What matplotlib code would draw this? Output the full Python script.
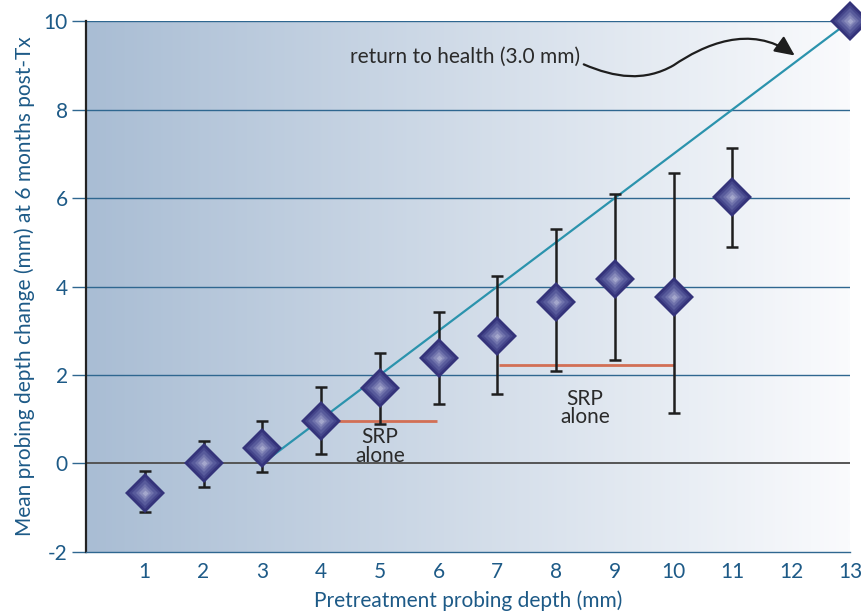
import numpy as np
import matplotlib
matplotlib.use('Agg')
import matplotlib.pyplot as plt
from matplotlib.path import Path
from matplotlib.patches import FancyArrowPatch

plt.rcParams['font.family'] = ['Lato', 'DejaVu Sans']

# data
depth = [1, 2, 3, 4, 5, 6, 7, 8, 9, 10, 11, 13]
mean_change = [-0.66, 0.0, 0.36, 0.97, 1.70, 2.38, 2.89, 3.65, 4.16, 3.77, 6.02, 10.0]
upper = [-0.18, 0.51, 0.95, 1.72, 2.50, 3.42, 4.24, 5.29, 6.10, 6.56, 7.13, 10.0]
lower = [-1.10, -0.53, -0.20, 0.21, 0.89, 1.34, 1.56, 2.08, 2.35, 1.15, 4.90, 10.0]

health_x = [3, 13]
health_y = [0, 10]

srp1_x = [4.18, 5.98]
srp1_y = [0.96, 0.96]
srp2_x = [7.03, 10.0]
srp2_y = [2.23, 2.23]

xticks = [1, 2, 3, 4, 5, 6, 7, 8, 9, 10, 11, 12, 13]
yticks = [-2, 0, 2, 4, 6, 8, 10]
ytick_labels = ['-2', '0', '2', '4', '6', '8', '10']

blue_txt = '#1d5a87'
grid_c = '#2f6790'

fig = plt.figure(figsize=(8.61, 6.16), dpi=100)
ax = fig.add_axes([0.0999, 0.1039, 0.8873, 0.862])

# gradient background
grad = np.linspace(0, 1, 256).reshape(1, -1)
c0 = np.array([169, 189, 212]) / 255
c1 = np.array([250, 251, 253]) / 255
img = c0[None, None, :] * (1 - grad[..., None]) + c1[None, None, :] * grad[..., None]
ax.imshow(img, extent=[0, 13, -2, 10], aspect='auto', zorder=0)

ax.set_xlim(0, 13)
ax.set_ylim(-2, 10)

# horizontal grid lines
for y in [2, 4, 6, 8, 10]:
    ax.axhline(y, color=grid_c, linewidth=1.0, zorder=1)
ax.axhline(0, color='#555555', linewidth=1.4, zorder=1)

# line of return to health
ax.plot(health_x, health_y, color='#2b93ad', linewidth=1.6, zorder=2)

# SRP alone lines
ax.plot(srp1_x, srp1_y, color='#d26f55', linewidth=2.0, zorder=2, solid_capstyle='butt')
ax.plot(srp2_x, srp2_y, color='#d26f55', linewidth=2.0, zorder=2, solid_capstyle='butt')

# error bars
m = np.array(mean_change)
yerr = [m - np.array(lower), np.array(upper) - m]
ax.errorbar(depth, mean_change, yerr=yerr, fmt='none', ecolor='#1e1e1e',
            elinewidth=1.8, capsize=4.3, capthick=1.8, zorder=3)

# diamonds with shaded center
shades = [(20, '#34337a'), (16.5, '#45468b'), (13, '#585b9b'), (9.5, '#6f72ab'), (6, '#888bbb'), (3, '#a3a6cc')]
for ms, col in shades:
    ax.plot(depth, mean_change, 'D', markersize=ms, color=col, markeredgewidth=0,
            zorder=4, clip_on=False)

# labels
ax.text(5.0, 0.38, 'SRP\nalone', ha='center', va='center', fontsize=15,
        color='#2a2a2a', linespacing=0.9, zorder=5)
ax.text(8.49, 1.25, 'SRP\nalone', ha='center', va='center', fontsize=15,
        color='#2a2a2a', linespacing=0.9, zorder=5)
ax.text(8.4, 9.18, 'return to health (3.0 mm)', ha='right', va='center',
        fontsize=15, color='#2a2a2a', zorder=5)

# curvy arrow
verts = [(8.47, 9.02), (9.0, 8.72), (9.5, 8.62), (10.0, 9.0),
         (10.5, 9.45), (11.3, 9.95), (12.06, 9.22)]
codes = [Path.MOVETO, Path.CURVE4, Path.CURVE4, Path.CURVE4,
         Path.CURVE4, Path.CURVE4, Path.CURVE4]
arrow = FancyArrowPatch(path=Path(verts, codes), arrowstyle='-|>,head_length=0.6,head_width=0.28',
                        mutation_scale=20, color='#1e1e1e', linewidth=1.6, zorder=5)
ax.add_patch(arrow)

# axes styling
for side in ['top', 'right']:
    ax.spines[side].set_visible(False)
ax.spines['left'].set_color('#222222')
ax.spines['left'].set_linewidth(1.6)
ax.spines['bottom'].set_color(grid_c)
ax.spines['bottom'].set_linewidth(1.0)

ax.set_xticks(xticks)
ax.set_xticklabels([str(t) for t in xticks])
ax.set_yticks(yticks)
ax.set_yticklabels(ytick_labels)
ax.tick_params(axis='x', length=0, pad=7, labelsize=15, labelcolor=blue_txt)
ax.tick_params(axis='y', length=10, width=1.0, color=grid_c, pad=3,
               labelsize=15, labelcolor=blue_txt)

ax.set_xlabel('Pretreatment probing depth (mm)', fontsize=15, color=blue_txt, labelpad=6)
ax.set_ylabel('Mean probing depth change (mm) at 6 months post-Tx', fontsize=15,
              color=blue_txt, labelpad=6)

fig.savefig('out.png', dpi=100)
